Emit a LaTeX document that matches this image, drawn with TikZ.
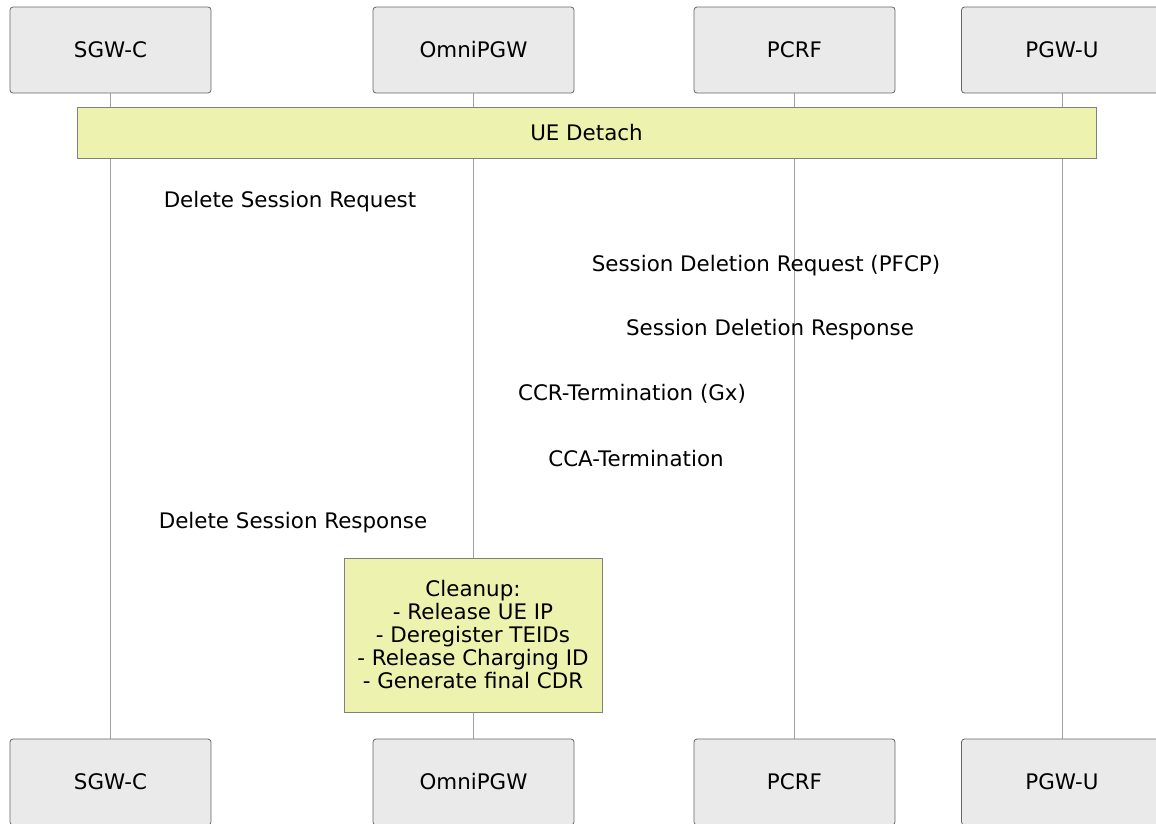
\documentclass[tikz,border=0pt]{standalone}
\usepackage{fontspec}
\setmainfont{DejaVu Sans}
\definecolor{ActorFill}{HTML}{EAEAEA}
\definecolor{ActorLine}{HTML}{666666}
\definecolor{NoteFill}{HTML}{EDF2AE}
\definecolor{NoteLine}{HTML}{808080}
\definecolor{LifeClr}{HTML}{A0A0A0}

\begin{document}
\begin{tikzpicture}[x=1pt,y=-1pt,
  actor/.style={draw=ActorLine,fill=ActorFill,rounded corners=3pt,line width=0.8pt,
    minimum width=201pt,minimum height=86pt,inner sep=0pt,font=\fontsize{21.4}{24}\selectfont},
  note/.style={draw=NoteLine,fill=NoteFill,line width=0.8pt,inner sep=0pt,
    align=center,font=\fontsize{21.4}{23}\selectfont},
  msg/.style={inner sep=0pt,font=\fontsize{21.4}{24}\selectfont},
  life/.style={draw=LifeClr,line width=0.8pt}]
\clip (0,0) rectangle (1156,823);

% participants, top and bottom
\node[actor] (sgwT) at (110.5,50) {SGW-C};
\node[actor] (pgwT) at (473.5,50) {OmniPGW};
\node[actor] (pcrfT) at (794.5,50) {PCRF};
\node[actor] (upT) at (1062,50) {PGW-U};

\node[actor] (sgwB) at (110.5,782) {SGW-C};
\node[actor] (pgwB) at (473.5,782) {OmniPGW};
\node[actor] (pcrfB) at (794.5,782) {PCRF};
\node[actor] (upB) at (1062,782) {PGW-U};

% lifelines
\draw[life] (sgwT) -- (sgwB);
\draw[life] (pgwT) -- (pgwB);
\draw[life] (pcrfT) -- (pcrfB);
\draw[life] (upT) -- (upB);

\node[note,minimum width=1019pt,minimum height=51pt] (detach) at (586.5,132.5) {UE Detach};

% messages
\node[msg] (dsReq) at (290,202) {Delete Session Request};
\node[msg] (sdReq) at (766,266) {Session Deletion Request (PFCP)};
\node[msg] (sdRsp) at (770,330) {Session Deletion Response};
\node[msg] (ccr) at (632,394) {CCR-Termination (Gx)};
\node[msg] (cca) at (636,459) {CCA-Termination};
\node[msg] (dsRsp) at (293,523) {Delete Session Response};

\node[note,minimum width=258pt,minimum height=154pt] (cleanup) at (473,635)
  {Cleanup:\\- Release UE IP\\- Deregister TEIDs\\- Release Charging ID\\- Generate final CDR};

\end{tikzpicture}
\end{document}
